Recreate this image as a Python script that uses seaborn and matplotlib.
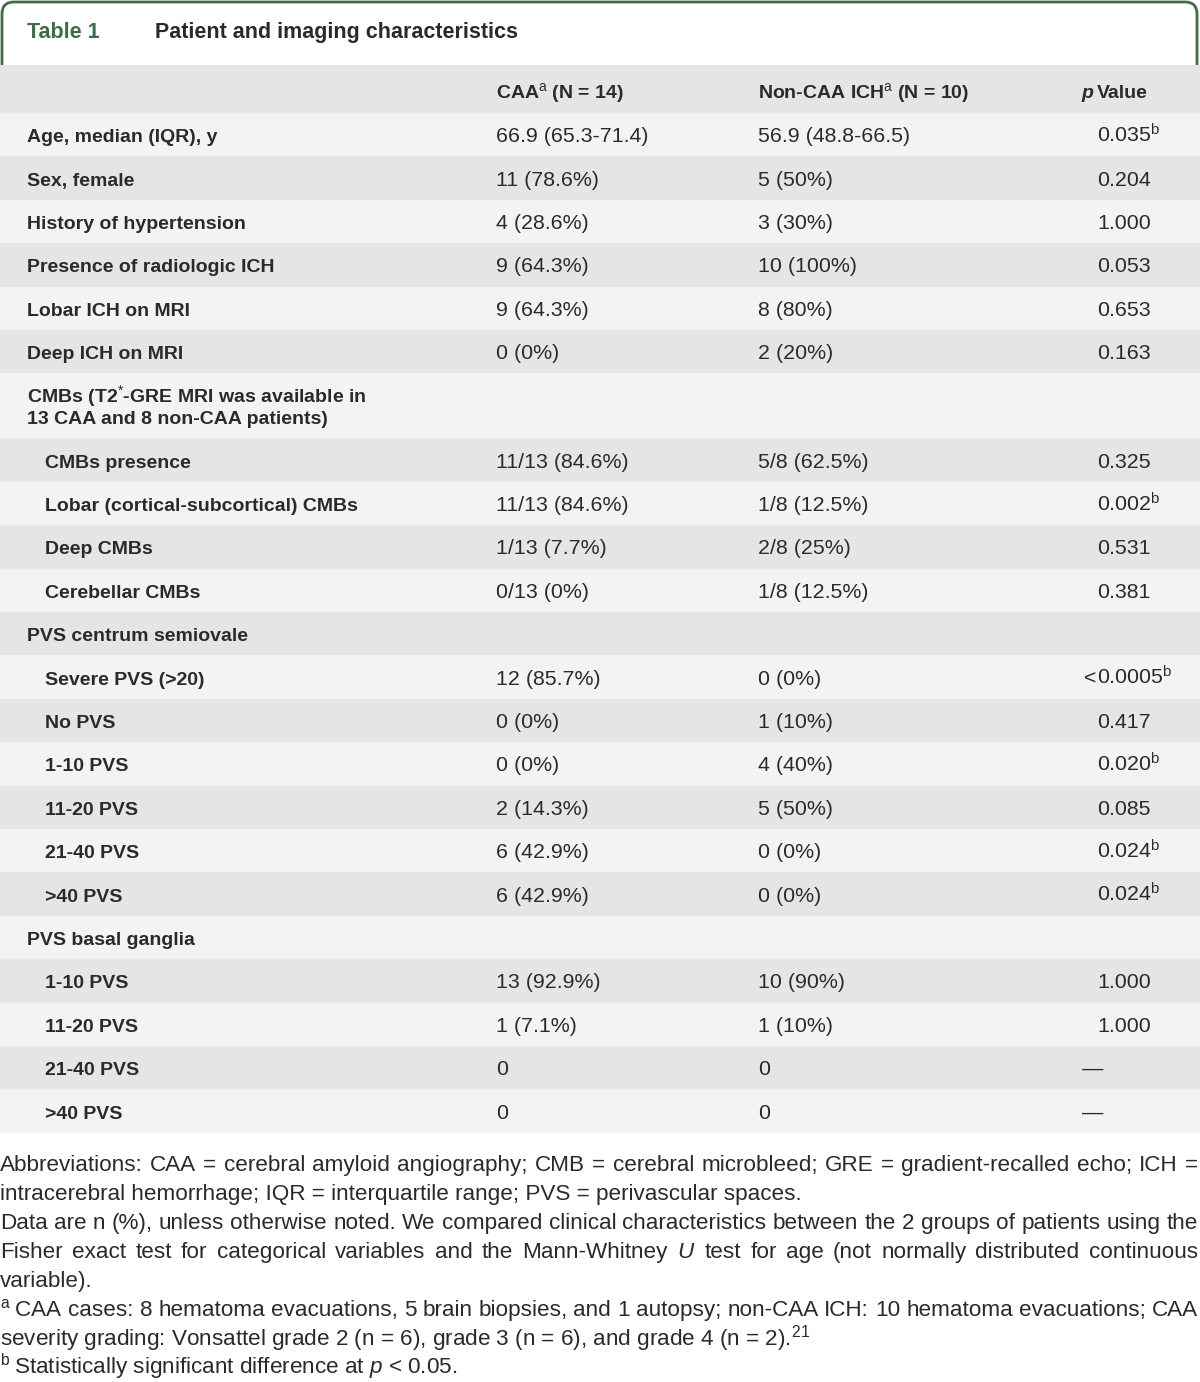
import matplotlib
matplotlib.use("Agg")
import matplotlib.pyplot as plt
from matplotlib.patches import FancyBboxPatch, Rectangle
import seaborn as sns
import pandas as pd

# Table content
labels = [
    "Age, median (IQR), y", "Sex, female", "History of hypertension",
    "Presence of radiologic ICH", "Lobar ICH on MRI", "Deep ICH on MRI",
    "CMBs (T2$^{*}$-GRE MRI was available in\n13 CAA and 8 non-CAA patients)",
    "CMBs presence", "Lobar (cortical-subcortical) CMBs", "Deep CMBs", "Cerebellar CMBs",
    "PVS centrum semiovale",
    "Severe PVS (>20)", "No PVS", "1-10 PVS", "11-20 PVS", "21-40 PVS", ">40 PVS",
    "PVS basal ganglia",
    "1-10 PVS", "11-20 PVS", "21-40 PVS", ">40 PVS",
]
indent = [0, 0, 0, 0, 0, 0, 0, 1, 1, 1, 1, 0, 1, 1, 1, 1, 1, 1, 0, 1, 1, 1, 1]
caa = [
    "66.9 (65.3-71.4)", "11 (78.6%)", "4 (28.6%)", "9 (64.3%)", "9 (64.3%)", "0 (0%)",
    "", "11/13 (84.6%)", "11/13 (84.6%)", "1/13 (7.7%)", "0/13 (0%)", "",
    "12 (85.7%)", "0 (0%)", "0 (0%)", "2 (14.3%)", "6 (42.9%)", "6 (42.9%)", "",
    "13 (92.9%)", "1 (7.1%)", "0", "0",
]
non_caa = [
    "56.9 (48.8-66.5)", "5 (50%)", "3 (30%)", "10 (100%)", "8 (80%)", "2 (20%)",
    "", "5/8 (62.5%)", "1/8 (12.5%)", "2/8 (25%)", "1/8 (12.5%)", "",
    "0 (0%)", "1 (10%)", "4 (40%)", "5 (50%)", "0 (0%)", "0 (0%)", "",
    "10 (90%)", "1 (10%)", "0", "0",
]
p_values = [
    "0.035", "0.204", "1.000", "0.053", "0.653", "0.163",
    "", "0.325", "0.002", "0.531", "0.381", "",
    "<0.0005", "0.417", "0.020", "0.085", "0.024", "0.024", "",
    "1.000", "1.000", "—", "—",
]
significant = [1, 0, 0, 0, 0, 0, 0, 0, 1, 0, 0, 0, 1, 0, 1, 0, 1, 1, 0, 0, 0, 0, 0]

footnotes = [
    ("Abbreviations: CAA = cerebral amyloid angiography; CMB = cerebral microbleed; "
     "GRE = gradient-recalled echo; ICH =", True),
    ("intracerebral hemorrhage; IQR = interquartile range; PVS = perivascular spaces.", False),
    ("Data are n (%), unless otherwise noted. We compared clinical characteristics "
     "between the 2 groups of patients using the", True),
    ("Fisher exact test for categorical variables and the Mann-Whitney $U$ test for age "
     "(not normally distributed continuous", True),
    ("variable).", False),
    ("${}^{\\mathrm{a}}$\u2009CAA cases: 8 hematoma evacuations, 5 brain biopsies, and 1 autopsy; "
     "non-CAA ICH: 10 hematoma evacuations; CAA", True),
    ("severity grading: Vonsattel grade 2 (n = 6), grade 3 (n = 6), and grade 4 (n = 2).$^{21}$", False),
    ("${}^{\\mathrm{b}}$\u2009Statistically significant difference at $p$ < 0.05.", False),
]

df = pd.DataFrame({"label": labels, "indent": indent, "caa": caa,
                   "non_caa": non_caa, "p": p_values, "sig": significant})

sns.set_theme(style="white")
plt.rcParams["font.family"] = ["Liberation Sans", "DejaVu Sans"]
plt.rcParams["mathtext.fontset"] = "custom"
plt.rcParams["mathtext.rm"] = "Liberation Sans"
plt.rcParams["mathtext.it"] = "Liberation Sans:italic"
plt.rcParams["mathtext.bf"] = "Liberation Sans:bold"

TXT = "#2a2a2a"
GREEN = "#3f6b47"
DARK = "#e5e5e5"
LIGHT = "#f3f3f3"
LAB = 14      # label font size
VAL = 15.4    # value font size
FOOT = 16.2   # footnote font size

fig = plt.figure(figsize=(12, 13.82), dpi=100)
ax = fig.add_axes([0, 0, 1, 1])
ax.set_xlim(0, 1200)
ax.set_ylim(1382, 0)
ax.axis("off")

# Title box
ax.add_patch(FancyBboxPatch((2, 2), 1195, 120, boxstyle="round,pad=0,rounding_size=12",
                            facecolor="white", edgecolor=GREEN, linewidth=2, zorder=1))
ax.text(27, 38, "Table 1", color=GREEN, fontsize=15.5, fontweight="bold", va="baseline", zorder=3)
ax.text(155, 38, "Patient and imaging characteristics", color=TXT, fontsize=15.5,
        fontweight="bold", va="baseline", zorder=3)

# Header row
ax.add_patch(Rectangle((0, 65), 1200, 48, facecolor=DARK, edgecolor="none", zorder=2))
hy = 98
ax.text(496, hy, "CAA$^{\\mathrm{a}}$ (N = 14)", fontsize=LAB, fontweight="bold", color=TXT,
        va="baseline", zorder=3)
ax.text(758, hy, "Non-CAA ICH$^{\\mathrm{a}}$ (N = 10)", fontsize=LAB, fontweight="bold",
        color=TXT, va="baseline", zorder=3)
ax.text(1081, hy, "p", fontsize=LAB, fontweight="bold", style="italic", color=TXT,
        va="baseline", zorder=3)
ax.text(1097, hy, "Value", fontsize=LAB, fontweight="bold", color=TXT, va="baseline", zorder=3)

# Body rows
row_h = 43.4
y = 113
for i, r in df.iterrows():
    lines = r["label"].split("\n")
    h = row_h if len(lines) == 1 else 65
    ax.add_patch(Rectangle((0, y), 1200, h, facecolor=LIGHT if i % 2 == 0 else DARK,
                           edgecolor="none", zorder=2))
    base = y + h / 2 + 7.5
    lx = 45 if r["indent"] else 27
    if len(lines) == 1:
        ax.text(lx, base, lines[0], fontsize=LAB, fontweight="bold", color=TXT,
                va="baseline", zorder=3)
    else:
        for k, line in enumerate(lines):
            ax.text(lx, base - 11 + 22 * k, line, fontsize=LAB, fontweight="bold", color=TXT,
                    va="baseline", zorder=3)
    ax.text(496, base, r["caa"], fontsize=VAL, color=TXT, va="baseline", zorder=3)
    ax.text(758, base, r["non_caa"], fontsize=VAL, color=TXT, va="baseline", zorder=3)
    p = r["p"]
    if p == "—":
        ax.text(1082, base, p, fontsize=VAL, color=TXT, va="baseline", zorder=3)
    elif p:
        if p.startswith("<"):
            ax.text(1096, base, "<", fontsize=VAL, color=TXT, va="baseline", ha="right", zorder=3)
            p = p[1:]
        if r["sig"]:
            p = p + "$^{\\mathrm{b}}$"
        ax.text(1097, base, p, fontsize=VAL, color=TXT, va="baseline", zorder=3)
    y += h

# Footnotes (some lines justified to full width)
fig.canvas.draw()
renderer = fig.canvas.get_renderer()
fy = 1165 + 6
for text, justify in footnotes:
    if not justify:
        ax.text(0, fy, text, fontsize=FOOT, color=TXT, va="baseline")
    else:
        words = text.split(" ")
        objs = [ax.text(0, fy, w, fontsize=FOOT, color=TXT, va="baseline") for w in words]
        widths = [o.get_window_extent(renderer).width for o in objs]
        gap = (1198 - sum(widths)) / (len(words) - 1)
        x = 0
        for o, w in zip(objs, widths):
            o.set_x(x)
            x += w + gap
    fy += 29.0

fig.savefig("out.png", dpi=100)
